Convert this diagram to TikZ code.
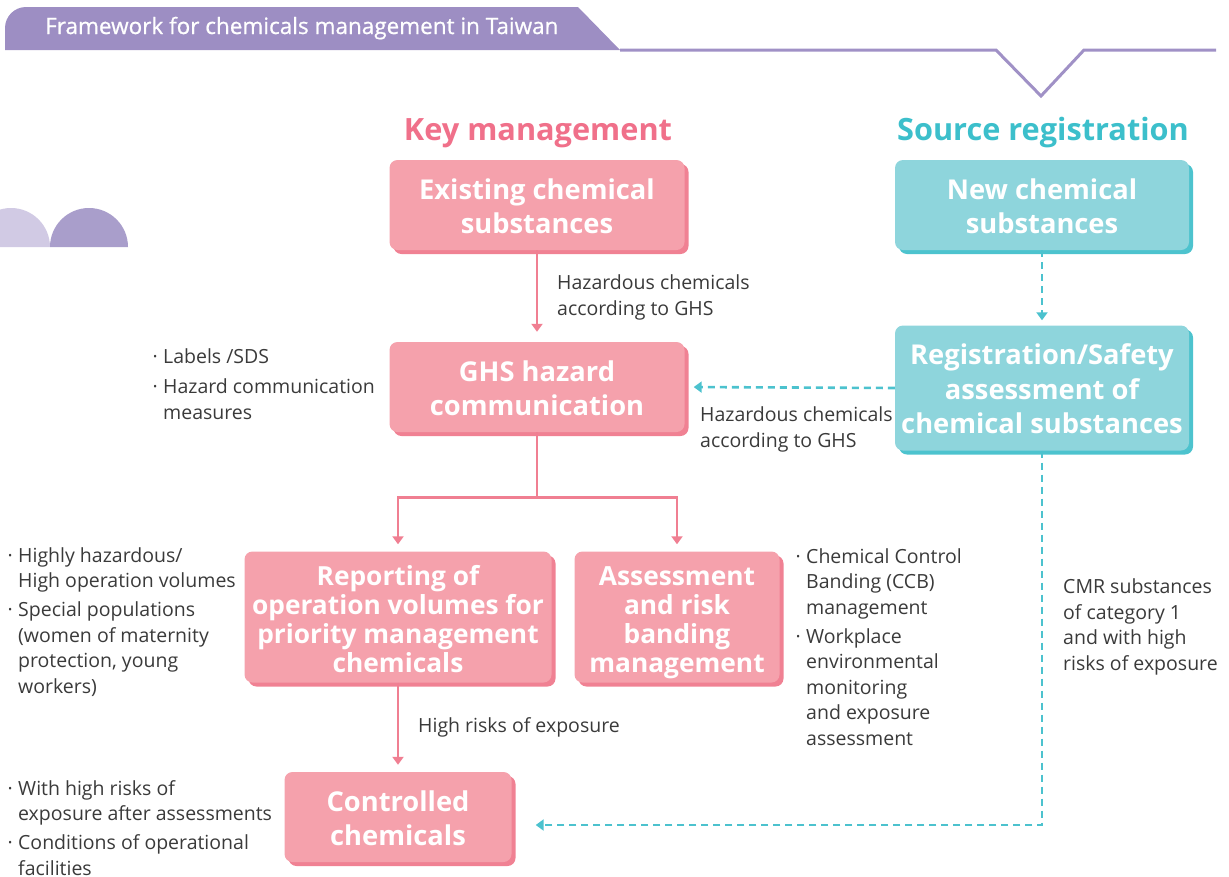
\documentclass[tikz,border=0pt]{standalone}
\usepackage{fontspec}
\setmainfont{Open Sans}
\newfontfamily\headfont{Open Sans}[FakeBold=0.8]
\usetikzlibrary{arrows.meta,shadows}

\definecolor{pinkfill}{HTML}{F5A1AC}
\definecolor{pinkshade}{HTML}{F08193}
\definecolor{pinkline}{HTML}{F07F92}
\definecolor{pinktitle}{HTML}{F0708A}
\definecolor{tealfill}{HTML}{8ED5DC}
\definecolor{tealshade}{HTML}{4DC3CE}
\definecolor{tealline}{HTML}{4CC2CE}
\definecolor{tealtitle}{HTML}{3CBFCB}
\definecolor{headfill}{HTML}{9D8EC3}
\definecolor{headline}{HTML}{A091C6}
\definecolor{disclight}{HTML}{D1CAE4}
\definecolor{discdark}{HTML}{A99ECB}
\definecolor{bodytext}{HTML}{3A3A3A}

\newcommand\bul{\makebox[16pt][c]{·}}
\newcommand\ind{\hspace*{16pt}}

\tikzset{
  boxtext/.style={text=white, align=center, inner sep=0pt, text depth=0pt,
    font=\bfseries\fontsize{27.3}{34.5}\selectfont},
  pinkbox/.style={boxtext, rounded corners=8pt, fill=pinkfill,
    drop shadow={opacity=1, fill=pinkshade, shadow xshift=4pt, shadow yshift=-4pt}},
  tealbox/.style={boxtext, rounded corners=8pt, fill=tealfill,
    drop shadow={opacity=1, fill=tealshade, shadow xshift=4pt, shadow yshift=-4pt}},
  twolines/.style={text height=57pt},
  threelines/.style={text height=91pt},
  fourlines/.style={text height=111pt, font=\bfseries\fontsize{26.3}{29}\selectfont},
  note/.style={text=bodytext, align=left, inner sep=0pt, anchor=base west,
    font=\fontsize{19.5}{25.5}\selectfont},
  pinkarrow/.style={draw=pinkline, line width=2.6pt, -{Triangle[width=11pt,length=8pt]}},
  pinkline/.style={draw=pinkline, line width=2.6pt},
  tealarrow/.style={draw=tealline, line width=2.6pt, dash pattern=on 7pt off 5pt,
    -{Triangle[width=11pt,length=8pt]}},
  heading/.style={font=\bfseries\fontsize{30.7}{36}\selectfont, inner sep=0pt}
}

\begin{document}
\begin{tikzpicture}[x=1pt, y=-1pt]
\useasboundingbox (0,0) rectangle (1229,876);

% header band and rule with notch (y axis points down, so angles turn clockwise)
\fill[headfill] (5,50) -- (5,28) arc[start angle=180, end angle=270, radius=21] -- (578,7) -- (620,50) -- cycle;
\draw[headline, line width=3pt, line join=miter] (620,50) -- (996,50) -- (1041,96) -- (1084,50) -- (1216,50);
\node[text=white, anchor=base west, inner sep=0pt, font=\headfont\fontsize{22.5}{26}\selectfont] (head) at (45,34) {Framework for chemicals management in Taiwan};

% decorative half discs
\fill[disclight] (-28,247) arc[start angle=180, end angle=360, radius=39] -- cycle;
\fill[discdark] (50,247) arc[start angle=180, end angle=360, radius=39] -- cycle;

% column headings
\node[heading, text=pinktitle] (keyhead) at (538,133) {Key management};
\node[heading, text=tealtitle] (srchead) at (1043,133) {Source registration};

% boxes
\node[pinkbox, twolines, minimum width=295pt, minimum height=90pt] (exist) at (537,205) {Existing chemical\\substances};
\node[pinkbox, twolines, minimum width=295pt, minimum height=90pt] (ghs) at (537,387) {GHS hazard\\communication};
\node[tealbox, twolines, minimum width=294pt, minimum height=90pt] (new) at (1042,205) {New chemical\\substances};
\node[tealbox, threelines, minimum width=294pt, minimum height=125pt] (reg) at (1042,388) {Registration/Safety\\assessment of\\chemical substances};
\node[pinkbox, fourlines, minimum width=307pt, minimum height=131pt] (report) at (398,617) {Reporting of\\operation volumes for\\priority management\\chemicals};
\node[pinkbox, fourlines, minimum width=205pt, minimum height=131pt] (assess) at (677,617) {Assessment\\and risk\\banding\\management};
\node[pinkbox, twolines, minimum width=227pt, minimum height=90pt] (ctrl) at (398,817) {Controlled\\chemicals};

% connectors
\coordinate (split) at ([yshift=-65pt]ghs.south);
\coordinate (ctrlin) at ([yshift=-8pt]ctrl.east);
\draw[pinkarrow, shorten >=10pt] (exist.south) -- (ghs.north);
\draw[pinkline] (ghs.south) -- (split);
\draw[pinkarrow, shorten >=7pt] (split) -| (report.north);
\draw[pinkarrow, shorten >=7pt] (split) -| (assess.north);
\draw[pinkarrow, shorten >=7pt] (report.south) -- (ctrl.north);
\draw[tealarrow, shorten >=5pt] (new.south) -- (reg.north);
\draw[tealarrow, shorten >=9pt] (reg.west) -- (ghs.east);
\draw[tealarrow, shorten >=24pt] (reg.south) |- (ctrlin);

% notes (anchored at the baseline of their last line)
\node[note] (n1) at (557,315) {Hazardous chemicals\\according to GHS};
\node[note] (n2) at (700,447) {Hazardous chemicals\\according to GHS};
\node[note] (n3) at (147,419) {\bul Labels /SDS\\[4.5pt]\bul Hazard communication\\\ind measures};
\node[note] (n4) at (2,693) {\bul Highly hazardous/\\\ind High operation volumes\\[3.5pt]\bul Special populations\\\ind (women of maternity\\\ind protection, young\\\ind workers)};
\node[note] (n5) at (790,745) {\bul Chemical Control\\\ind Banding (CCB)\\\ind management\\[3.5pt]\bul Workplace\\\ind environmental\\\ind monitoring\\\ind and exposure\\\ind assessment};
\node[note] (n6) at (418,732) {High risks of exposure};
\node[note] (n7) at (1063,670) {CMR substances\\of category 1\\and with high\\risks of exposure};
\node[note] (n8) at (2,875) {\bul With high risks of\\\ind exposure after assessments\\[3.5pt]\bul Conditions of operational\\\ind facilities};
\end{tikzpicture}
\end{document}
